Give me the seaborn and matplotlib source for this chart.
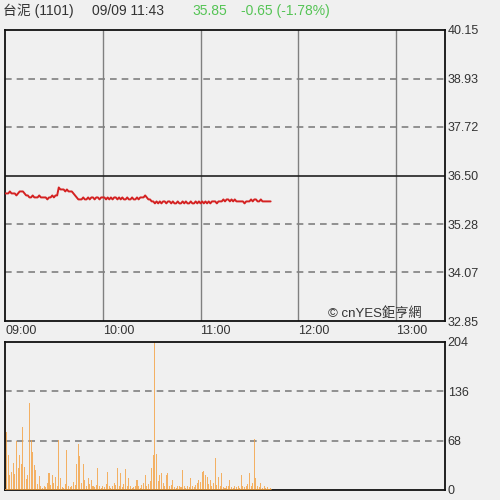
import numpy as np
import pandas as pd
import matplotlib.pyplot as plt
import seaborn as sns

# price per minute from 09:00 to 11:43
prices = [36.05, 36.05, 36.05, 36.10, 36.05, 36.05, 36.05, 36.00, 36.05, 36.10,
          36.10, 36.10, 36.05, 36.00, 36.00, 35.95, 35.95, 36.00, 35.95, 35.95,
          35.95, 36.00, 35.95, 35.95, 35.95, 35.95, 35.90, 35.95, 35.95, 36.00,
          35.95, 36.00, 36.00, 36.20, 36.15, 36.15, 36.15, 36.10, 36.15, 36.10,
          36.10, 36.10, 36.05, 36.00, 35.95, 35.90, 35.90, 35.90, 35.95, 35.90,
          35.90, 35.95, 35.90, 35.95, 35.95, 35.90, 35.95, 35.95, 35.90, 35.95,
          35.95, 35.95, 35.90, 35.95, 35.90, 35.95, 35.90, 35.95, 35.95, 35.90,
          35.95, 35.90, 35.95, 35.90, 35.90, 35.95, 35.90, 35.90, 35.95, 35.90,
          35.90, 35.95, 35.90, 35.95, 35.95, 35.95, 36.00, 35.95, 35.90, 35.90,
          35.85, 35.85, 35.80, 35.85, 35.80, 35.85, 35.80, 35.85, 35.85, 35.80,
          35.85, 35.85, 35.80, 35.85, 35.80, 35.80, 35.85, 35.80, 35.80, 35.85,
          35.80, 35.85, 35.80, 35.80, 35.85, 35.80, 35.80, 35.85, 35.80, 35.85,
          35.80, 35.85, 35.80, 35.85, 35.80, 35.85, 35.80, 35.85, 35.85, 35.85,
          35.80, 35.85, 35.85, 35.85, 35.90, 35.85, 35.90, 35.90, 35.85, 35.90,
          35.85, 35.90, 35.85, 35.85, 35.85, 35.85, 35.85, 35.80, 35.85, 35.85,
          35.85, 35.90, 35.85, 35.90, 35.90, 35.85, 35.85, 35.90, 35.85, 35.85,
          35.85, 35.85, 35.85, 35.85]

volumes = [122, 80, 48, 20, 25, 37, 22, 67, 30, 48,
           36, 87, 32, 15, 20, 120, 69, 53, 34, 28,
           8, 19, 5, 3, 6, 4, 9, 23, 7, 21,
           10, 18, 6, 69, 17, 4, 3, 8, 55, 5,
           4, 6, 11, 7, 36, 64, 47, 9, 36, 14,
           6, 17, 8, 14, 5, 4, 7, 30, 6, 3,
           5, 4, 8, 25, 6, 3, 5, 9, 7, 31,
           6, 23, 4, 8, 29, 6, 17, 5, 3, 4,
           6, 14, 5, 3, 7, 9, 21, 6, 8, 12,
           30, 48, 204, 50, 12, 21, 23, 9, 6, 21,
           24, 5, 7, 14, 4, 3, 6, 5, 4, 27,
           6, 3, 5, 4, 16, 6, 4, 7, 9, 14,
           11, 25, 26, 21, 18, 8, 14, 6, 9, 44,
           7, 18, 5, 24, 4, 3, 6, 5, 14, 4,
           3, 5, 4, 6, 3, 21, 5, 4, 6, 8,
           24, 5, 9, 70, 16, 6, 4, 10, 3, 5,
           3, 4, 2, 3]

minutes = list(range(len(prices)))

price_ticks = [32.85, 34.07, 35.28, 36.50, 37.72, 38.93, 40.15]
prev_close = 36.50
vol_ticks = [0, 68, 136, 204]
time_labels = ['09:00', '10:00', '11:00', '12:00', '13:00']
time_pos = [0, 60, 120, 180, 240]

sns.set_style('white')
plt.rcParams['font.family'] = ['Liberation Sans', 'Noto Sans CJK TC', 'DejaVu Sans']

bg = '#f0f0f0'
fig = plt.figure(figsize=(5, 5), dpi=100, facecolor=bg)
ax = fig.add_axes([0.01, 0.358, 0.88, 0.582], facecolor=bg)
ax2 = fig.add_axes([0.01, 0.02, 0.88, 0.296], facecolor=bg)

# price panel
df = pd.DataFrame({'minute': minutes, 'price': prices})
for t in time_pos[1:]:
    ax.axvline(t, color='#808080', lw=1, zorder=1)
for p in price_ticks[1:-1]:
    if p == prev_close:
        ax.axhline(p, color='#222222', lw=1.2, zorder=1)
    else:
        ax.axhline(p, color='#808080', lw=1.2, ls=(0, (4, 3)), zorder=1)
sns.lineplot(data=df, x='minute', y='price', ax=ax, color='#d42222', lw=1.4, zorder=3)
ax.set_xlim(0, 270)
ax.set_ylim(price_ticks[0], price_ticks[-1])
ax.set_xticks(time_pos)
ax.set_xticklabels(time_labels, ha='left', fontsize=9, color='#333333')
ax.set_yticks(price_ticks)
ax.set_yticklabels([f'{p:.2f}' for p in price_ticks], fontsize=9, color='#333333')
ax.yaxis.tick_right()
ax.tick_params(axis='both', length=0, pad=2)
ax.tick_params(axis='x', pad=3)
ax.set_xlabel('')
ax.set_ylabel('')
for s in ax.spines.values():
    s.set_color('#111111')
    s.set_linewidth(1.3)
ax.text(0.948, 0.005, '© cnYES鉅亨網', transform=ax.transAxes, ha='right', va='bottom',
        fontsize=9.5, color='#333333')

# volume panel
for v in vol_ticks[1:-1]:
    ax2.axhline(v, color='#808080', lw=1.2, ls=(0, (4, 3)), zorder=1)
ax2.bar(minutes, volumes, width=0.65, color='#f5a040', alpha=0.8, linewidth=0,
        edgecolor='none', zorder=2)
ax2.axhline(0, xmax=163 / 270, color='#f0a040', lw=1.2, zorder=3)
ax2.set_xlim(0, 270)
ax2.set_ylim(0, 204)
ax2.set_xticks([])
ax2.set_yticks(vol_ticks)
ax2.set_yticklabels([str(v) for v in vol_ticks], fontsize=9, color='#333333')
ax2.yaxis.tick_right()
ax2.tick_params(axis='y', length=0, pad=2)
for s in ax2.spines.values():
    s.set_color('#111111')
    s.set_linewidth(1.3)

# header
fig.text(0.006, 0.978, '台泥 (1101)', fontsize=10, color='#333333', va='center')
fig.text(0.184, 0.978, '09/09 11:43', fontsize=10, color='#333333', va='center')
fig.text(0.384, 0.978, '35.85', fontsize=10, color='#55c455', va='center')
fig.text(0.482, 0.978, '-0.65 (-1.78%)', fontsize=10, color='#55c455', va='center')

fig.savefig('out.png', dpi=100, facecolor=bg)
